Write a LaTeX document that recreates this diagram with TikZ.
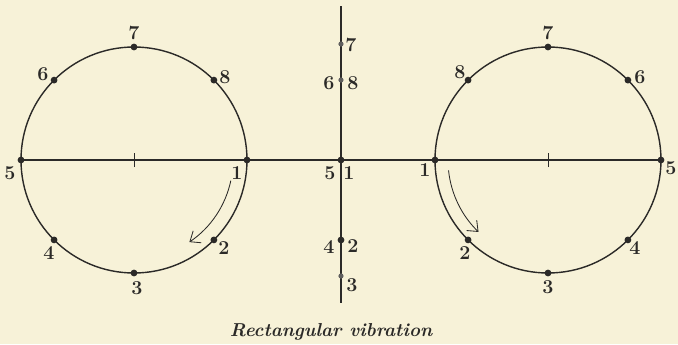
\documentclass[tikz,border=0pt]{standalone}
\usetikzlibrary{arrows.meta,positioning}
\definecolor{paper}{HTML}{F7F2D8}
\definecolor{ink}{HTML}{2B2A28}

\begin{document}
\begin{tikzpicture}[x=0.025cm, y=0.025cm,
  ring/.style={draw=ink, line width=1pt},
  axis/.style={draw=ink, line width=0.8pt},
  tick/.style={draw=ink, line width=0.5pt},
  pdot/.style={circle, fill=ink, inner sep=0pt, minimum size=0.17cm},
  mdot/.style={circle, fill=ink!75, inner sep=0pt, minimum size=0.13cm},
  num/.style={inner sep=0pt, text=ink, font=\fontsize{14}{16}\selectfont\bfseries},
  arr/.style={-{Straight Barb[length=2.2mm, width=3.6mm]}, draw=ink, line width=0.6pt}
]
  % paper
  \fill[paper] (-341,-184) rectangle (337,160);

  % left circle, clockwise
  \begin{scope}[shift={(-207,0)}]
  \draw[ring] (0,0) circle[radius=113];
  \draw[tick] (0,-7) -- (0,7);
  \coordinate (la) at (-12:99);
  \draw[arr] (la) arc[start angle=-12, end angle=-56, radius=99];
  \node[pdot] (L1) at (0:113) {};
  \node[pdot] (L2) at (-45:113) {};
  \node[pdot] (L3) at (-90:113) {};
  \node[pdot] (L4) at (-135:113) {};
  \node[pdot] (L5) at (180:113) {};
  \node[pdot] (L6) at (135:113) {};
  \node[pdot] (L7) at (90:113) {};
  \node[pdot] (L8) at (45:113) {};
  \node[num] (l1) at (103,-13) {1};
  \node[num] (l2) at (90,-88) {2};
  \node[num] (l3) at (3,-128) {3};
  \node[num] (l4) at (-85,-93) {4};
  \node[num] (l5) at (-124,-13) {5};
  \node[num] (l6) at (-91,86) {6};
  \node[num] (l7) at (0,127) {7};
  \node[num] (l8) at (91,83) {8};
  \end{scope}

  % right circle, counter-clockwise
  \begin{scope}[shift={(207,0)}]
  \draw[ring] (0,0) circle[radius=113];
  \draw[tick] (0,-7) -- (0,7);
  \coordinate (ra) at (186:100);
  \draw[arr] (ra) arc[start angle=186, end angle=226, radius=100];
  \node[pdot] (R1) at (180:113) {};
  \node[pdot] (R2) at (-135:113) {};
  \node[pdot] (R3) at (-90:113) {};
  \node[pdot] (R4) at (-45:113) {};
  \node[pdot] (R5) at (0:113) {};
  \node[pdot] (R6) at (45:113) {};
  \node[pdot] (R7) at (90:113) {};
  \node[pdot] (R8) at (135:113) {};
  \node[num] (r1) at (-123,-10) {1};
  \node[num] (r2) at (-83,-93) {2};
  \node[num] (r3) at (0,-127) {3};
  \node[num] (r4) at (87,-88) {4};
  \node[num] (r5) at (123,-8) {5};
  \node[num] (r6) at (92,83) {6};
  \node[num] (r7) at (0,127) {7};
  \node[num] (r8) at (-88,88) {8};
  \end{scope}

  % axes
  \draw[axis] (L5.center) -- (R5.center);
  \coordinate (vtop) at (0,154);
  \coordinate (vbot) at (0,-143);
  \draw[axis] (vtop) -- (vbot);

  % middle projection
  \node[mdot] (M7) at (0,116) {};
  \node[mdot] (M68) at (0,80) {};
  \node[pdot] (M51) at (0,0) {};
  \node[pdot] (M42) at (0,-80) {};
  \node[mdot] (M3) at (0,-116) {};
  \node[num] (m7) at (10,115) {7};
  \node[num] (m6) at (-12,77) {6};
  \node[num] (m8) at (12,77) {8};
  \node[num] (m5) at (-11,-13) {5};
  \node[num] (m1) at (8,-13) {1};
  \node[num] (m4) at (-12,-87) {4};
  \node[num] (m2) at (12,-86) {2};
  \node[num] (m3) at (11,-125) {3};

  % caption
  \node[anchor=base, text=ink, font=\fontsize{13.3}{16}\selectfont\bfseries\itshape] (cap) at (-10,-176) {Rectangular vibration};
\end{tikzpicture}
\end{document}
